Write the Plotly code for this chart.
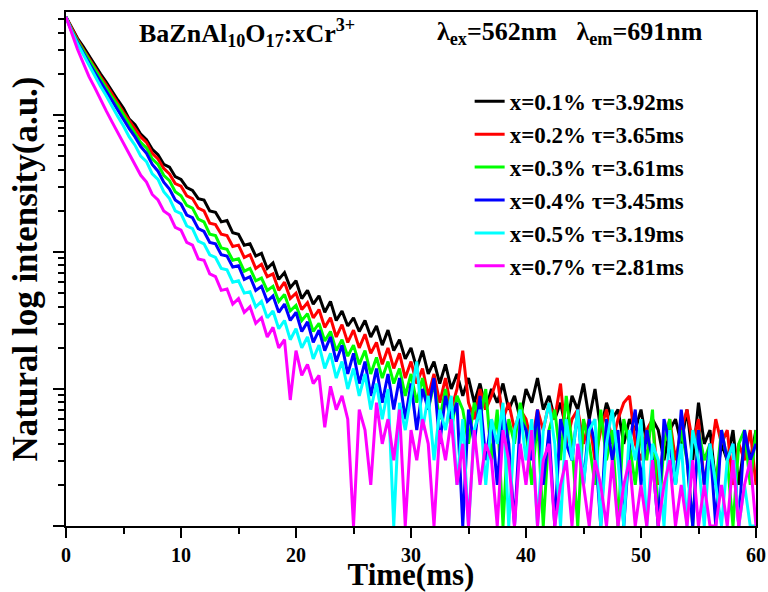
import numpy as np
import plotly.graph_objects as go

# Time axis (ms), sampled every 0.5 ms
time_ms = np.arange(0, 60.01, 0.5)

# log10 of detected intensity (counts)
log_int_01 = [
    3.715, 3.64, 3.56, 3.50, 3.43, 3.37, 3.30, 3.24, 3.17, 3.11,
    3.05, 2.97, 2.93, 2.86, 2.82, 2.75, 2.71, 2.64, 2.62, 2.55,
    2.53, 2.47, 2.45, 2.39, 2.38, 2.30, 2.29, 2.22, 2.23, 2.14,
    2.13, 2.05, 2.06, 1.97, 1.99, 1.88, 1.92, 1.80, 1.85, 1.74,
    1.79, 1.66, 1.72, 1.62, 1.68, 1.56, 1.64, 1.50, 1.57, 1.46,
    1.52, 1.42, 1.50, 1.38, 1.46, 1.32, 1.43, 1.28, 1.36, 1.22,
    1.30, 1.15, 1.28, 1.11, 1.20, 1.04, 1.18, 1.00, 1.11, 0.95,
    1.08, 0.90, 1.04, 0.85, 1.00, 0.90, 1.04, 0.85, 0.95, 0.78,
    1.00, 0.90, 1.08, 0.85, 0.95, 0.78, 0.90, 0.70, 0.95, 0.85,
    1.04, 0.78, 1.00, 0.70, 0.90, 0.78, 0.85, 0.60, 0.78, 0.70,
    0.85, 0.60, 0.78, 0.70, 0.48, 0.70, 0.78, 0.60, 0.85, 0.48,
    0.90, 0.60, 0.70, 0.30, 0.60, 0.48, 0.70, 0.30, 0.60, 0.48,
    0.70,
]
log_int_02 = [
    3.715, 3.63, 3.55, 3.48, 3.41, 3.35, 3.28, 3.22, 3.15, 3.09,
    3.02, 2.96, 2.90, 2.84, 2.80, 2.72, 2.68, 2.61, 2.57, 2.50,
    2.48, 2.41, 2.39, 2.32, 2.30, 2.21, 2.20, 2.13, 2.12, 2.04,
    2.05, 1.96, 1.98, 1.88, 1.91, 1.82, 1.84, 1.72, 1.78, 1.66,
    1.70, 1.58, 1.63, 1.52, 1.58, 1.45, 1.52, 1.38, 1.47, 1.34,
    1.43, 1.30, 1.40, 1.26, 1.34, 1.18, 1.30, 1.15, 1.26, 1.08,
    1.20, 1.04, 1.15, 0.95, 1.11, 0.90, 1.08, 0.85, 1.00, 1.28,
    0.90, 0.78, 1.00, 0.85, 0.95, 1.08, 0.78, 0.90, 0.70, 0.85,
    0.78, 0.60, 0.85, 0.70, 0.90, 0.78, 1.04, 0.60, 0.78, 0.85,
    0.60, 0.78, 0.48, 0.70, 0.85, 0.60, 0.78, 0.90, 0.95, 0.60,
    0.48, 0.70, 0.78, 0.30, 0.60, 0.78, 0.48, 0.70, 0.85, 0.60,
    0.78, 0.30, 0.48, 0.78, 0.60, 0.70, 0.30, 0.60, 0.48, 0.70,
    0.30,
]
log_int_03 = [
    3.715, 3.62, 3.54, 3.47, 3.40, 3.33, 3.26, 3.20, 3.13, 3.07,
    3.00, 2.93, 2.87, 2.80, 2.76, 2.68, 2.64, 2.56, 2.52, 2.44,
    2.41, 2.34, 2.32, 2.24, 2.22, 2.13, 2.12, 2.03, 2.02, 1.94,
    1.95, 1.86, 1.88, 1.79, 1.81, 1.72, 1.75, 1.64, 1.69, 1.57,
    1.61, 1.50, 1.55, 1.42, 1.48, 1.35, 1.42, 1.28, 1.36, 1.24,
    1.32, 1.18, 1.28, 1.11, 1.23, 1.08, 1.20, 1.04, 1.15, 0.95,
    1.11, 0.90, 1.08, 0.85, 1.04, 0.78, 1.00, 0.70, 0.95, 0.85,
    0.60, 0.90, 0.78, 1.00, 0.48, 0.85, 0.00, 0.78, 0.60, 0.90,
    0.70, 0.30, 0.78, 0.00, 0.70, 0.85, 0.48, 0.95, 0.60, 0.00,
    0.78, 0.60, 0.30, 0.85, 0.48, 0.70, 0.00, 0.78, 0.60, 0.30,
    0.70, 0.48, 0.85, 0.00, 0.60, 0.78, 0.30, 0.70, 0.48, 0.00,
    0.70, 0.48, 0.60, 0.30, 0.70, 0.48, 0.00, 0.60, 0.70, 0.30,
    0.70,
]
log_int_04 = [
    3.715, 3.61, 3.53, 3.45, 3.38, 3.31, 3.24, 3.17, 3.10, 3.04,
    2.97, 2.90, 2.84, 2.77, 2.72, 2.64, 2.59, 2.51, 2.46, 2.38,
    2.35, 2.27, 2.25, 2.17, 2.15, 2.07, 2.06, 1.98, 1.97, 1.89,
    1.90, 1.80, 1.82, 1.72, 1.75, 1.64, 1.68, 1.56, 1.62, 1.50,
    1.56, 1.42, 1.49, 1.34, 1.43, 1.28, 1.38, 1.20, 1.32, 1.11,
    1.26, 1.04, 1.20, 0.95, 1.15, 0.90, 1.11, 0.85, 1.08, 0.78,
    1.04, 0.70, 1.00, 0.85, 1.08, 0.60, 0.95, 0.78, 0.90, 0.00,
    0.85, 0.60, 0.95, 0.48, 0.78, 0.30, 0.85, 0.60, 0.00, 0.78,
    0.70, 0.48, 0.85, 0.30, 0.70, 0.00, 0.78, 0.60, 0.48, 0.85,
    0.30, 0.78, 0.60, 0.00, 0.78, 0.48, 0.70, 0.00, 0.60, 0.85,
    0.30, 0.70, 0.48, 0.00, 0.78, 0.60, 0.30, 0.85, 0.48, 0.00,
    0.70, 0.30, 0.60, 0.00, 0.70, 0.48, 0.60, 0.00, 0.70, 0.48,
    0.60,
]
log_int_05 = [
    3.715, 3.61, 3.52, 3.44, 3.36, 3.29, 3.21, 3.14, 3.06, 2.99,
    2.92, 2.84, 2.78, 2.70, 2.66, 2.57, 2.53, 2.44, 2.39, 2.30,
    2.28, 2.19, 2.17, 2.08, 2.06, 1.98, 1.96, 1.88, 1.87, 1.78,
    1.79, 1.70, 1.71, 1.60, 1.64, 1.52, 1.57, 1.44, 1.50, 1.36,
    1.44, 1.30, 1.38, 1.22, 1.32, 1.15, 1.26, 1.08, 1.20, 1.00,
    1.15, 0.95, 1.11, 0.85, 1.04, 0.78, 1.00, 0.00, 0.90, 0.70,
    0.95, 1.20, 0.70, 0.95, 0.48, 0.85, 0.70, 0.95, 0.30, 0.78,
    0.00, 0.70, 0.85, 0.30, 0.78, 0.60, 0.90, 0.00, 0.70, 0.85,
    0.48, 0.78, 0.00, 0.70, 0.90, 0.60, 0.00, 0.78, 0.48, 0.85,
    0.30, 0.70, 0.78, 0.00, 0.60, 0.85, 0.48, 0.00, 0.70, 0.48,
    0.78, 0.00, 0.60, 0.48, 0.00, 0.70, 0.30, 0.60, 0.00, 0.70,
    0.48, 0.00, 0.60, 0.30, 0.00, 0.48, 0.60, 0.00, 0.30, 0.00,
    0.00,
]
log_int_07 = [
    3.715, 3.59, 3.48, 3.38, 3.28, 3.20, 3.11, 3.03, 2.95, 2.87,
    2.79, 2.71, 2.64, 2.56, 2.51, 2.42, 2.38, 2.30, 2.27, 2.18,
    2.16, 2.07, 2.05, 1.95, 1.94, 1.84, 1.82, 1.72, 1.73, 1.62,
    1.66, 1.56, 1.60, 1.48, 1.52, 1.38, 1.45, 1.30, 1.36, 0.92,
    1.28, 1.10, 1.18, 1.04, 1.10, 0.72, 1.02, 0.85, 0.95, 0.78,
    0.00, 0.85, 0.70, 0.30, 0.90, 0.60, 0.78, 0.48, 0.85, 0.00,
    0.70, 0.48, 0.78, 0.60, 0.00, 0.70, 0.48, 0.78, 0.30, 0.60,
    0.00, 0.70, 0.30, 0.60, 0.48, 0.00, 0.70, 0.48, 0.00, 0.60,
    0.30, 0.70, 0.00, 0.48, 0.60, 0.00, 0.30, 0.48, 0.00, 0.60,
    0.30, 0.00, 0.48, 0.30, 0.00, 0.48, 0.00, 0.30, 0.48, 0.00,
    0.30, 0.00, 0.48, 0.00, 0.30, 0.48, 0.00, 0.30, 0.00, 0.48,
    0.00, 0.30, 0.00, 0.00, 0.30, 0.00, 0.48, 0.00, 0.30, 0.48,
    0.00,
]

series_names = [
    "x=0.1% τ=3.92ms",
    "x=0.2% τ=3.65ms",
    "x=0.3% τ=3.61ms",
    "x=0.4% τ=3.45ms",
    "x=0.5% τ=3.19ms",
    "x=0.7% τ=2.81ms",
]
series_values = [log_int_01, log_int_02, log_int_03, log_int_04, log_int_05, log_int_07]
series_colors = ["#000000", "#FF0000", "#00FF00", "#0000FF", "#00FFFF", "#FF00FF"]

FONT = "Liberation Serif"

fig = go.Figure()
for name, vals, color in zip(series_names, series_values, series_colors):
    fig.add_trace(go.Scatter(
        x=time_ms, y=10 ** np.array(vals), mode="lines", name=name,
        line=dict(color=color, width=3),
    ))

fig.update_layout(
    width=768, height=592,
    margin=dict(l=66, r=12, t=12, b=66),
    plot_bgcolor="white", paper_bgcolor="white",
    font=dict(family=FONT, color="black", size=20, weight="bold"),
    showlegend=True,
    legend=dict(
        x=0.585, y=0.868, xanchor="left", yanchor="top",
        font=dict(family=FONT, size=23, color="black", weight="bold"),
        bgcolor="rgba(0,0,0,0)",
    ),
    annotations=[
        dict(text="BaZnAl<sub>10</sub>O<sub>17</sub>:xCr<sup>3+</sup>",
             xref="paper", yref="paper", x=0.103, y=0.959,
             xanchor="left", yanchor="middle", showarrow=False,
             font=dict(family=FONT, size=26, color="black", weight="bold")),
        dict(text="λ<sub>ex</sub>=562nm   λ<sub>em</sub>=691nm",
             xref="paper", yref="paper", x=0.535, y=0.959,
             xanchor="left", yanchor="middle", showarrow=False,
             font=dict(family=FONT, size=26, color="black", weight="bold")),
    ],
)

fig.update_xaxes(
    range=[0, 60], tick0=0, dtick=10, automargin=False,
    ticks="outside", ticklen=10, tickwidth=2, tickcolor="black",
    showline=True, linewidth=2, linecolor="black", mirror=True,
    showgrid=False, zeroline=False,
    minor=dict(tick0=0, dtick=5, ticks="outside", ticklen=6, tickwidth=2, tickcolor="black", showgrid=False),
    tickfont=dict(family=FONT, size=20, color="black", weight="bold"),
    title=dict(text="Time(ms)", font=dict(family=FONT, size=31, color="black", weight="bold"), standoff=9),
)
fig.update_yaxes(
    type="log", range=[0, 3.752], dtick=1, automargin=False,
    ticks="outside", ticklen=11, tickwidth=2, tickcolor="black",
    showticklabels=False,
    showline=True, linewidth=2, linecolor="black", mirror=True,
    showgrid=False, zeroline=False,
    minor=dict(dtick="D1", ticks="outside", ticklen=6, tickwidth=2, tickcolor="black", showgrid=False),
    title=dict(text="Natural log intensity(a.u.)", font=dict(family=FONT, size=35, color="black", weight="bold"), standoff=5),
)

fig.write_html("out.html", config={"displayModeBar": False},
               post_script="document.body.style.margin='0px';")
